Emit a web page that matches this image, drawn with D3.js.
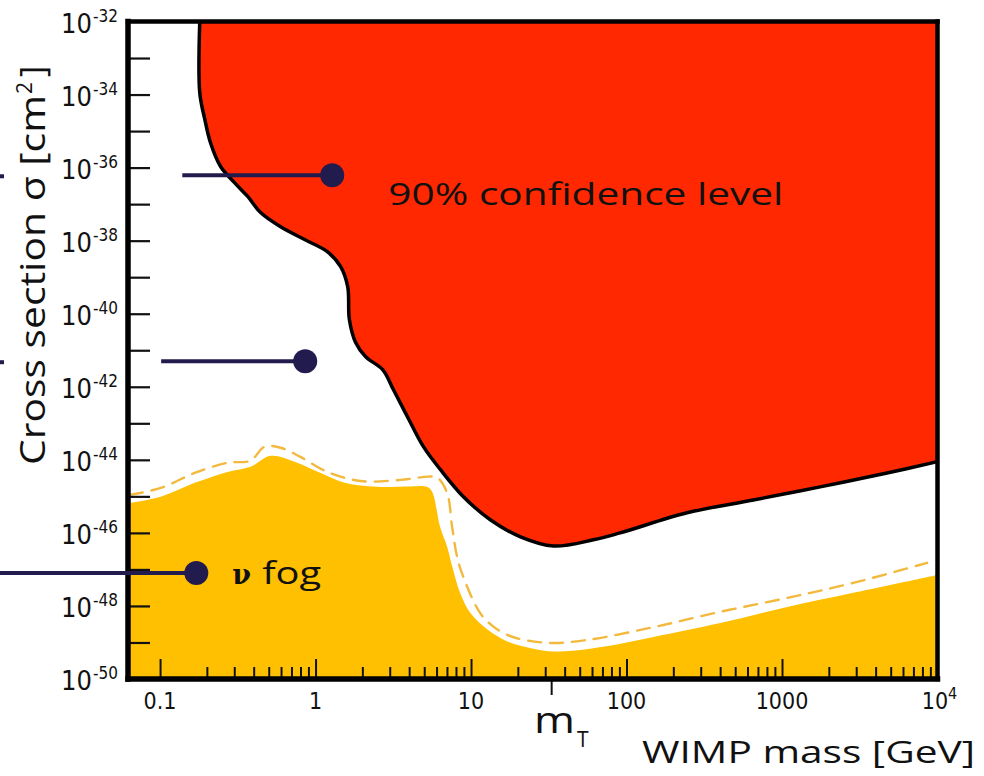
<!DOCTYPE html>
<html>
<head>
<meta charset="utf-8">
<script src="https://cdn.jsdelivr.net/npm/d3@7"></script>
<style>
  html, body { margin: 0; padding: 0; background: #fff; }
  svg { display: block; }
</style>
</head>
<body>
<svg id="chart" width="984" height="776"></svg>
<script>
// Spin-independent WIMP cross-section vs. mass: 90% CL exclusion and neutrino fog

// Axis extents
const massDomain = [0.0622, 1e4];          // GeV
const logSigmaDomain = [-50, -32];          // log10(sigma / cm^2)

// 90% confidence-level exclusion boundary
const limitMass = [0.18, 0.18, 0.194, 0.211, 0.245, 0.301, 0.366, 0.443, 0.596, 0.85,
  1.19, 1.45, 1.61, 1.65, 1.81, 2.1, 2.7, 3.17, 3.9, 4.94, 6.36, 8.93, 13.3, 20.8,
  33.9, 61.2, 91, 245, 653, 1760, 4740, 10000];
const limitLogSigma = [-32.0, -33.95, -34.68, -35.32, -35.97, -36.41, -36.79, -37.23, -37.62, -37.97,
  -38.30, -38.71, -39.26, -40.16, -40.79, -41.18, -41.53, -42.08, -42.82, -43.64, -44.27, -45.01, -45.64, -46.11,
  -46.36, -46.19, -46.0, -45.45, -45.10, -44.74, -44.36, -44.05];

// Neutrino fog (filled region)
const fogMass = [0.06, 0.101, 0.167, 0.272, 0.382, 0.514, 0.733, 1.08, 1.54, 2.5,
  4.08, 5.2, 5.61, 6.32, 7.01, 7.66, 8.49, 9.86, 12.7, 17.1,
  26.6, 37.3, 71, 149, 401, 1080, 2870, 10000];
const fogLogSigma = [-45.2, -45.01, -44.63, -44.33, -44.19, -43.89, -44.05, -44.36, -44.63, -44.74,
  -44.73, -44.74, -44.87, -45.83, -46.37, -47.00, -47.63, -48.18, -48.64, -48.97,
  -49.19, -49.25, -49.12, -48.85, -48.47, -48.03, -47.64, -47.15];

// Dashed outline of the neutrino fog
const fogEdgeMass = [0.064, 0.101, 0.167, 0.272, 0.382, 0.47, 0.596, 0.80, 1.19, 1.95,
  3.52, 5.3, 6.04, 7.01, 7.55, 8.13, 8.89, 11.9, 17.1, 31,
  56, 149, 401, 1080, 2870, 8570];
const fogEdgeLogSigma = [-44.96, -44.77, -44.36, -44.08, -44.02, -43.64, -43.67, -43.92, -44.33, -44.58,
  -44.55, -44.46, -44.48, -44.90, -45.83, -46.65, -47.19, -48.29, -48.79, -49.01,
  -48.93, -48.58, -48.16, -47.78, -47.37, -46.82];

// Tick values and labels
const xMajorTicks = [0.1, 1, 10, 100, 1000];
const xMinorTicks = [0.2,0.3,0.4,0.5,0.6,0.7,0.8,0.9, 2,3,4,5,6,7,8,9,
  20,30,40,50,60,70,80,90, 200,300,400,500,600,700,800,900, 2000,3000,4000,5000,6000,7000,8000,9000];
const xTickLabels = ["0.1", "1", "10", "100", "1000"];
const yTickExps = [-33,-34,-35,-36,-37,-38,-39,-40,-41,-42,-43,-44,-45,-46,-47,-48,-49];
const yLabelExps = [-32,-34,-36,-38,-40,-42,-44,-46,-48,-50];
const mT = 33;   // GeV, mass of the best sensitivity

// Callout markers
const calloutMass = [1.28, 0.858, 0.171];
const calloutLogSigma = [-36.21, -41.30, -47.10];
const calloutLineFrom = [0.139, 0.1016, null];   // null: leader runs from page edge
const calloutStub = [true, true, false];

// Colours
const RED = "#ff2800";
const GOLD = "#fec000";
const DASH = "#f2b93c";
const NAVY = "#221b4e";
const tickFont = '"Liberation Sans Narrow","DejaVu Sans Condensed","Arial Narrow",sans-serif';
const titleFont = '"Open Sans","Noto Sans",sans-serif';

const plot = { left: 128, right: 937.5, top: 21.5, bottom: 679 };

const svg = d3.select("#chart");
const x = d3.scaleLog().domain(massDomain).range([plot.left, plot.right]);
const y = d3.scaleLinear().domain(logSigmaDomain).range([plot.bottom, plot.top]);

const zip = (ms, ls) => ms.map((m, i) => [m, ls[i]]);
const limitPts = zip(limitMass, limitLogSigma);
const fogPts = zip(fogMass, fogLogSigma);
const fogEdgePts = zip(fogEdgeMass, fogEdgeLogSigma);

svg.append("defs").append("clipPath").attr("id", "plotClip")
  .append("rect")
  .attr("x", plot.left).attr("y", plot.top)
  .attr("width", plot.right - plot.left).attr("height", plot.bottom - plot.top);

const g = svg.append("g").attr("clip-path", "url(#plotClip)");

// Neutrino fog area
const fogArea = d3.area()
  .x(d => x(d[0])).y0(y(logSigmaDomain[0]) + 5).y1(d => y(d[1]))
  .curve(d3.curveCatmullRom.alpha(0.5));
g.append("path").attr("d", fogArea(fogPts)).attr("fill", GOLD);

// Dashed fog edge
const line = d3.line().x(d => x(d[0])).y(d => y(d[1])).curve(d3.curveCatmullRom.alpha(0.5));
g.append("path").attr("d", line(fogEdgePts))
  .attr("fill", "none").attr("stroke", DASH).attr("stroke-width", 2.4)
  .attr("stroke-dasharray", "13,9").attr("stroke-linecap", "round");

// Excluded region
const limitPath = line(limitPts);
const topY = y(logSigmaDomain[1]) - 6;
g.append("path")
  .attr("d", `M${x(limitMass[0])},${topY}L` + limitPath.slice(1) +
             `L${x(massDomain[1]) + 6},${y(limitLogSigma[limitLogSigma.length - 1])}` +
             `L${x(massDomain[1]) + 6},${topY}Z`)
  .attr("fill", RED);
g.append("path").attr("d", limitPath)
  .attr("fill", "none").attr("stroke", "#000").attr("stroke-width", 3.5)
  .attr("stroke-linejoin", "round").attr("stroke-linecap", "round");

// Y ticks (every decade, pointing into the plot)
const yAxis = svg.append("g").attr("transform", `translate(${plot.left},0)`)
  .call(d3.axisRight(y).tickValues(yTickExps).tickSize(22).tickFormat(""));
yAxis.select(".domain").remove();
yAxis.selectAll(".tick line").attr("stroke", "#111").attr("stroke-width", 2.2);

// X ticks
const xMajor = svg.append("g").attr("transform", `translate(0,${plot.bottom})`)
  .call(d3.axisTop(x).tickValues(xMajorTicks).tickSize(20).tickFormat(""));
const xMinor = svg.append("g").attr("transform", `translate(0,${plot.bottom})`)
  .call(d3.axisTop(x).tickValues(xMinorTicks).tickSize(12).tickFormat(""));
[xMajor, xMinor].forEach(a => {
  a.select(".domain").remove();
  a.selectAll(".tick line").attr("stroke", "#111").attr("stroke-width", 2);
});

// m_T marker below the axis
svg.append("line")
  .attr("x1", x(mT)).attr("x2", x(mT))
  .attr("y1", plot.bottom).attr("y2", plot.bottom + 16)
  .attr("stroke", "#111").attr("stroke-width", 2);

// Frame
const frame = svg.append("g").attr("stroke", "#000").attr("stroke-linecap", "square");
frame.append("line").attr("x1", plot.left).attr("x2", plot.right).attr("y1", plot.top).attr("y2", plot.top).attr("stroke-width", 4.5);
frame.append("line").attr("x1", plot.right).attr("x2", plot.right).attr("y1", plot.top).attr("y2", plot.bottom).attr("stroke-width", 4.5);
frame.append("line").attr("x1", plot.left).attr("x2", plot.left).attr("y1", plot.top).attr("y2", plot.bottom).attr("stroke-width", 5.5);
frame.append("line").attr("x1", plot.left).attr("x2", plot.right).attr("y1", plot.bottom).attr("y2", plot.bottom).attr("stroke-width", 5.5);

// Y tick labels: 10^n
yLabelExps.forEach(e => {
  const t = svg.append("text")
    .attr("x", plot.left - 10).attr("y", y(e) + 11)
    .attr("text-anchor", "end").attr("font-family", tickFont).attr("fill", "#111");
  t.append("tspan").attr("font-size", 27).text("10");
  t.append("tspan").attr("font-size", 17).attr("dy", -11).attr("dx", 1).text("-" + Math.abs(e));
});

// X tick labels
xMajorTicks.forEach((v, i) => {
  svg.append("text")
    .attr("x", x(v)).attr("y", plot.bottom + 30)
    .attr("text-anchor", "middle").attr("font-family", tickFont)
    .attr("font-size", 23).attr("fill", "#111").text(xTickLabels[i]);
});
const lastLabel = svg.append("text")
  .attr("x", x(massDomain[1]) + 2).attr("y", plot.bottom + 30)
  .attr("text-anchor", "middle").attr("font-family", tickFont).attr("fill", "#111");
lastLabel.append("tspan").attr("font-size", 23).text("10");
lastLabel.append("tspan").attr("font-size", 16).attr("dy", -10).text("4");

// Callouts
calloutMass.forEach((m, i) => {
  const cy = y(calloutLogSigma[i]);
  const cx = x(m);
  const x0 = calloutLineFrom[i] === null ? 0 : x(calloutLineFrom[i]);
  svg.append("line").attr("x1", x0).attr("x2", cx).attr("y1", cy).attr("y2", cy)
    .attr("stroke", NAVY).attr("stroke-width", 4);
  if (calloutStub[i]) {
    svg.append("line").attr("x1", 0).attr("x2", 4).attr("y1", cy + 1).attr("y2", cy + 1)
      .attr("stroke", NAVY).attr("stroke-width", 4);
  }
  svg.append("circle").attr("cx", cx).attr("cy", cy).attr("r", 12).attr("fill", NAVY);
});

// Region labels
svg.append("text")
  .attr("x", x(2.94)).attr("y", y(-37.03))
  .attr("font-family", titleFont).attr("font-size", 31).attr("fill", "#111")
  .attr("textLength", 395).attr("lengthAdjust", "spacingAndGlyphs")
  .text("90% confidence level");
svg.append("text")
  .attr("x", x(0.291)).attr("y", y(-47.40))
  .attr("font-family", '"DejaVu Serif","Liberation Serif",serif').attr("font-weight", "bold")
  .attr("font-size", 27).attr("fill", "#111").text("ν");
svg.append("text")
  .attr("x", x(0.291) + 30).attr("y", y(-47.40))
  .attr("font-family", titleFont).attr("font-size", 31).attr("fill", "#111")
  .attr("textLength", 59).attr("lengthAdjust", "spacingAndGlyphs")
  .text("fog");

// Axis titles
svg.append("text")
  .attr("x", 534).attr("y", 733)
  .attr("font-family", titleFont).attr("font-size", 37).attr("fill", "#111")
  .attr("textLength", 41).attr("lengthAdjust", "spacingAndGlyphs").text("m");
svg.append("text")
  .attr("x", 577).attr("y", 747)
  .attr("font-family", titleFont).attr("font-size", 21).attr("fill", "#111").text("T");

svg.append("text")
  .attr("x", 642).attr("y", 763)
  .attr("font-family", titleFont).attr("font-size", 31).attr("fill", "#111")
  .attr("textLength", 333).attr("lengthAdjust", "spacingAndGlyphs")
  .text("WIMP mass [GeV]");

const yt = svg.append("g").attr("transform", "translate(45,465) rotate(-90)")
  .attr("font-family", titleFont).attr("fill", "#111");
yt.append("text").attr("x", 0).attr("y", 0).attr("font-size", 34)
  .attr("textLength", 370).attr("lengthAdjust", "spacingAndGlyphs")
  .text("Cross section σ [cm");
yt.append("text").attr("x", 371).attr("y", -13).attr("font-size", 21).text("2");
yt.append("text").attr("x", 388).attr("y", 0).attr("font-size", 34).text("]");
</script>
</body>
</html>
